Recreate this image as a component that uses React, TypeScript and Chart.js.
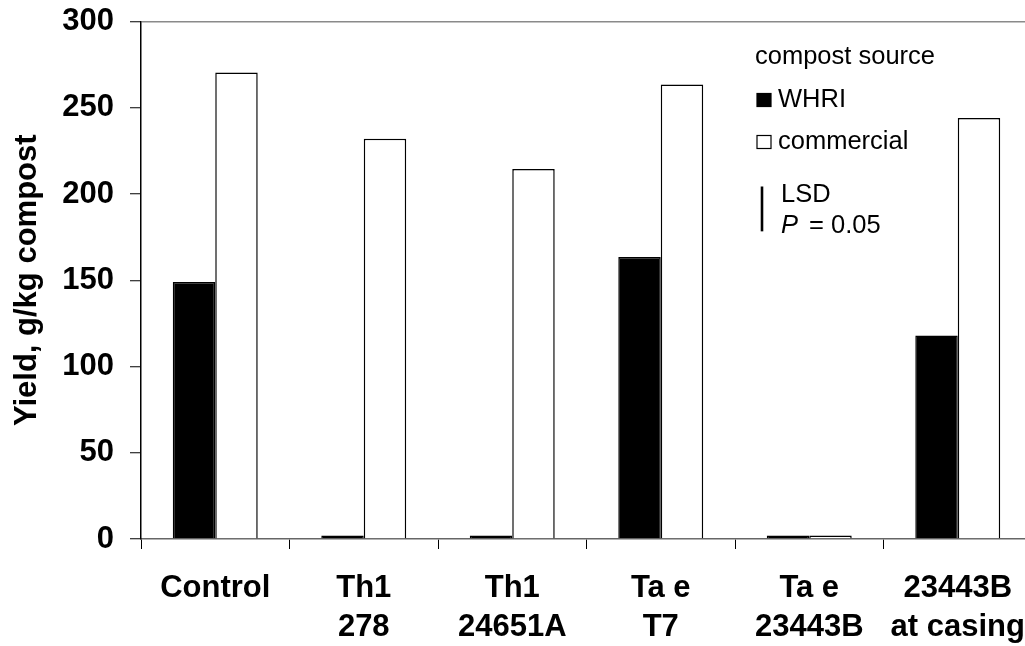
import React, { useEffect, useRef } from 'react';
import { Chart, registerables } from 'chart.js';

Chart.register(...registerables);

// ---- data ----
const categories: string[][] = [
  ['Control'],
  ['Th1', '278'],
  ['Th1', '24651A'],
  ['Ta e', 'T7'],
  ['Ta e', '23443B'],
  ['23443B', 'at casing'],
];
const seriesLabels = ['WHRI', 'commercial'];
const whriValues = [149, 2, 2, 163.5, 2, 118];
const commercialValues = [270.5, 232, 214.5, 263.5, 2, 244];
const seriesFill = ['#000000', '#ffffff'];
const yTickValues = [0, 50, 100, 150, 200, 250, 300];
const yTitle = 'Yield, g/kg compost';
const legendTitle = 'compost source';
const lsdValue = [26];
const lsdLabel = 'LSD';
const pLabel = ['P', '= 0.05'];

const FAMILY = '"Liberation Sans", Arial, Helvetica, sans-serif';

const legendPlugin = {
  id: 'customLegend',
  afterDraw(chart: any) {
    const ctx = chart.ctx as CanvasRenderingContext2D;
    const yScale = chart.scales.y;
    ctx.save();
    ctx.textAlign = 'left';
    ctx.textBaseline = 'alphabetic';
    ctx.fillStyle = '#000';
    ctx.font = `25.5px ${FAMILY}`;
    ctx.fillText(legendTitle, 755, 64);
    chart.data.datasets.forEach((ds: any, i: number) => {
      const base = 107 + i * 42;
      ctx.fillStyle = ds.backgroundColor;
      ctx.fillRect(757, base - 13.5, 14, 13);
      ctx.strokeStyle = '#000';
      ctx.lineWidth = 1.2;
      ctx.strokeRect(757, base - 13.5, 14, 13);
      ctx.fillStyle = '#000';
      ctx.fillText(ds.label, 778, base);
    });
    // LSD bar (length from the y scale)
    const len = yScale.getPixelForValue(0) - yScale.getPixelForValue(lsdValue[0]);
    ctx.strokeStyle = '#000';
    ctx.lineWidth = 2.6;
    ctx.beginPath();
    ctx.moveTo(762, 186.5);
    ctx.lineTo(762, 186.5 + len);
    ctx.stroke();
    ctx.fillText(lsdLabel, 781, 201.5);
    ctx.font = `italic 25.5px ${FAMILY}`;
    ctx.fillText(pLabel[0], 781, 233);
    ctx.font = `25.5px ${FAMILY}`;
    ctx.fillText(pLabel[1], 809, 233);
    ctx.restore();
  },
};

export default function App() {
  const canvasRef = useRef<HTMLCanvasElement | null>(null);

  useEffect(() => {
    document.body.style.margin = '0';
    const canvas = canvasRef.current;
    if (!canvas) return;
    Chart.defaults.font.family = FAMILY;
    const chart = new Chart(canvas, {
      type: 'bar',
      data: {
        labels: categories,
        datasets: [
          {
            label: seriesLabels[0],
            data: whriValues,
            backgroundColor: seriesFill[0],
            borderColor: '#000',
            borderWidth: 1.5,
            categoryPercentage: 0.572,
            barPercentage: 1,
          },
          {
            label: seriesLabels[1],
            data: commercialValues,
            backgroundColor: seriesFill[1],
            borderColor: '#000',
            borderWidth: 1.5,
            categoryPercentage: 0.572,
            barPercentage: 1,
          },
        ],
      },
      options: {
        responsive: false,
        animation: false,
        devicePixelRatio: 1,
        layout: { padding: { top: 21.5, left: 0, right: 0, bottom: 0 } },
        plugins: {
          legend: { display: false },
          tooltip: { enabled: false },
        },
        scales: {
          x: {
            grid: {
              display: true,
              offset: true,
              drawOnChartArea: false,
              color: '#000',
              tickColor: '#000',
              tickLength: 10,
              tickWidth: 1,
            },
            border: { color: '#666', width: 1.5 },
            ticks: {
              color: '#000',
              autoSkip: false,
              maxRotation: 0,
              padding: 20,
              font: { family: FAMILY, size: 31, weight: 'bold', lineHeight: 1.26 },
            },
            afterFit: (s: any) => {
              s.height = 107;
              s.paddingLeft = 0;
              s.paddingRight = 0;
            },
          },
          y: {
            min: 0,
            max: 300,
            afterBuildTicks: (s: any) => {
              s.ticks = yTickValues.map((v) => ({ value: v }));
            },
            grid: {
              color: (c: any) => (c.tick && c.tick.value === 300 ? '#8a8a8a' : 'rgba(0,0,0,0)'),
              lineWidth: 1.5,
              tickColor: '#000',
              tickLength: 11,
              tickWidth: 1,
            },
            border: { color: '#000', width: 1.5 },
            ticks: {
              color: '#000',
              padding: 16,
              font: { family: FAMILY, size: 31, weight: 'bold' },
            },
            title: {
              display: true,
              text: yTitle,
              color: '#000',
              padding: { top: 9, bottom: 0 },
              font: { family: FAMILY, size: 31, weight: 'bold' },
            },
            afterFit: (s: any) => {
              s.width = 141;
              s.paddingTop = 0;
              s.paddingBottom = 0;
            },
          },
        },
      } as any,
      plugins: [legendPlugin],
    });
    return () => chart.destroy();
  }, []);

  return (
    <div style={{ width: 1025, height: 646, overflow: 'hidden', position: 'relative', background: '#fff' }}>
      <canvas
        ref={canvasRef}
        width={1032}
        height={646}
        style={{ display: 'block', width: 1032, height: 646 }}
      />
    </div>
  );
}
